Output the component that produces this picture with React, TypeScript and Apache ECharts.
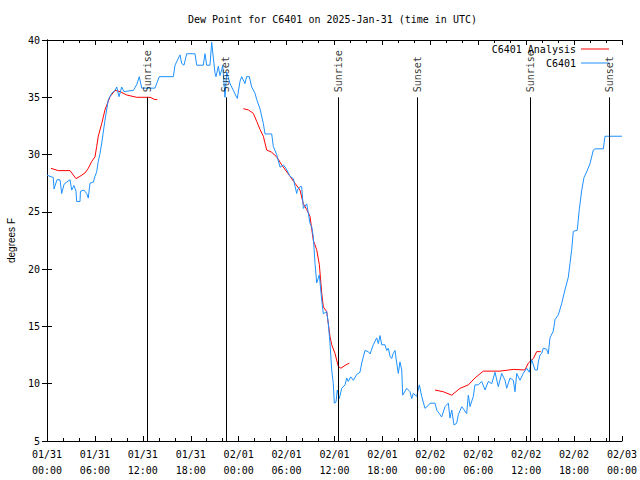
import React, { useEffect, useRef } from "react";
import * as echarts from "echarts";

const titleText = "Dew Point for C6401 on 2025-Jan-31 (time in UTC)";
const yAxisName = "degrees F";
const xTickLabels = [
  "01/31\n00:00", "01/31\n06:00", "01/31\n12:00", "01/31\n18:00",
  "02/01\n00:00", "02/01\n06:00", "02/01\n12:00", "02/01\n18:00",
  "02/02\n00:00", "02/02\n06:00", "02/02\n12:00", "02/02\n18:00",
  "02/03\n00:00",
];
const seriesNames = ["C6401 Analysis", "C6401"];

// hours since 01/31 00:00 UTC, dew point (F)
const analysis: [number, number | null][] = [
  [0.5, 28.8], [1.41, 28.6], [2.88, 28.6], [3.63, 27.9], [4.13, 28.1], [4.76, 28.4],
  [5.17, 28.8], [5.6, 29.4], [6.01, 29.8], [6.22, 30.7], [6.42, 31.6], [6.85, 32.7],
  [7.26, 33.9], [7.89, 35.05], [8.51, 35.6], [9.14, 35.5], [9.98, 35.2], [11.23, 35.0],
  [12.27, 35.0], [12.9, 35.0], [13.52, 34.8], [13.81, 34.8],
  [19.0, null],
  [24.58, 34.0], [25.21, 33.9], [25.83, 33.6], [26.26, 32.9], [26.67, 32.2], [27.09, 31.6],
  [27.51, 30.4], [28.14, 30.2], [28.76, 29.8], [29.39, 29.1], [30.43, 28.1], [31.05, 27.5],
  [31.68, 26.9], [32.1, 25.7], [32.52, 25.2], [32.93, 24.6], [33.35, 22.5], [33.77, 21.7],
  [34.1, 20.4], [34.4, 17.9], [34.6, 16.7], [35.02, 16.3], [35.44, 14.1], [35.65, 13.4],
  [36.06, 12.65], [36.48, 11.5], [36.81, 11.35], [37.32, 11.6], [37.85, 11.8],
  [43.0, null],
  [48.59, 9.45], [49.62, 9.3], [50.68, 9.0], [51.72, 9.6], [52.76, 9.9], [53.59, 10.5],
  [54.63, 11.1], [55.47, 11.1], [56.72, 11.1], [58.39, 11.25], [59.85, 11.2], [60.27, 11.8],
  [60.9, 12.2], [61.32, 12.8], [61.82, 12.8],
];

const observed: [number, number][] = [
  [0.0, 28.2], [0.79, 28.0], [0.88, 27.0], [1.25, 27.8], [1.63, 27.8], [1.84, 26.6],
  [2.13, 27.4], [2.47, 27.6], [2.88, 27.8], [3.09, 26.9], [3.38, 27.3], [3.63, 26.8],
  [3.72, 25.9], [4.13, 25.9], [4.19, 26.8], [4.63, 26.9], [4.97, 26.6], [5.17, 26.2],
  [5.38, 27.5], [5.8, 27.6], [6.01, 28.1], [6.22, 28.5], [6.42, 29.4], [6.64, 30.1],
  [6.85, 31.0], [7.26, 33.0], [7.68, 34.8], [8.1, 35.35], [8.51, 35.6], [8.73, 35.9],
  [9.02, 35.05], [9.35, 35.9], [9.64, 35.5], [10.81, 35.6], [11.23, 36.1], [11.56, 36.8],
  [11.86, 35.8], [13.52, 35.8], [14.06, 36.8], [15.82, 36.8], [16.03, 37.8], [16.65, 38.7],
  [16.87, 37.95], [17.15, 37.8], [17.49, 38.8], [18.53, 38.8], [18.75, 37.8], [19.57, 37.8],
  [19.78, 38.8], [20.0, 37.8], [20.41, 37.8], [20.62, 39.8], [20.82, 38.5], [21.04, 37.1],
  [21.16, 36.8], [21.45, 37.7], [21.66, 36.9], [21.88, 37.4], [22.0, 37.8], [22.29, 35.0],
  [22.5, 37.2], [22.92, 36.2], [23.33, 35.6], [23.75, 35.0], [23.83, 34.9], [24.17, 36.4],
  [24.38, 36.8], [24.79, 36.2], [25.0, 36.8], [25.33, 36.8], [25.63, 35.9], [26.05, 35.35],
  [26.26, 34.8], [26.67, 34.0], [27.09, 32.7], [27.3, 31.8], [28.14, 31.8], [28.34, 30.7],
  [28.76, 30.0], [29.18, 28.9], [29.59, 29.1], [29.93, 28.8], [30.43, 28.1], [30.84, 27.9],
  [31.27, 26.6], [31.34, 26.9], [31.68, 27.2], [31.89, 27.2], [32.1, 25.3], [32.31, 25.5],
  [32.52, 25.7], [32.72, 24.9], [32.93, 24.0], [33.15, 23.7], [33.35, 22.8], [33.56, 20.5],
  [33.77, 18.8], [34.1, 19.5], [34.4, 17.3], [34.6, 16.1], [35.02, 16.3], [35.22, 15.3],
  [35.44, 13.5], [35.65, 11.2], [35.85, 10.0], [35.98, 8.3], [36.19, 8.4], [36.35, 9.45],
  [36.6, 8.7], [36.9, 9.6], [37.32, 9.9], [37.53, 10.5], [37.73, 10.2], [38.03, 10.6],
  [38.36, 10.3], [38.78, 10.8], [39.19, 11.0], [39.41, 11.8], [39.82, 12.9], [40.23, 12.8],
  [40.45, 12.6], [40.86, 13.4], [41.28, 14.0], [41.49, 13.5], [41.7, 14.2], [41.91, 13.4],
  [42.32, 13.4], [42.54, 12.9], [42.74, 13.1], [42.95, 12.4], [43.16, 12.2], [43.36, 12.65],
  [43.58, 12.9], [43.79, 11.8], [43.99, 10.9], [44.2, 11.9], [44.42, 11.2], [44.54, 9.0],
  [45.04, 9.6], [45.45, 9.3], [45.67, 8.7], [45.87, 9.15], [46.29, 8.9], [46.62, 9.9],
  [46.92, 8.9], [47.33, 7.85], [47.75, 8.1], [47.96, 8.3], [48.59, 8.3], [48.8, 7.7],
  [49.42, 7.1], [49.84, 8.0], [50.25, 8.3], [50.46, 7.0], [50.68, 7.7], [50.96, 6.4],
  [51.3, 6.55], [51.5, 7.3], [51.93, 8.0], [52.55, 7.4], [52.76, 9.0], [52.97, 8.0],
  [53.38, 8.9], [53.59, 9.9], [54.01, 9.9], [54.43, 10.2], [54.85, 9.45], [55.26, 10.2],
  [55.69, 10.0], [56.1, 11.0], [56.51, 9.75], [56.94, 10.9], [57.35, 10.3], [57.56, 9.6],
  [57.98, 10.5], [58.39, 10.3], [58.6, 9.3], [58.82, 10.9], [59.23, 10.3], [59.64, 10.9],
  [60.07, 11.35], [60.39, 11.0], [60.69, 12.1], [61.11, 11.2], [61.4, 11.2], [61.52, 11.9],
  [61.73, 12.5], [61.94, 12.65], [62.15, 13.1], [62.57, 13.0], [62.77, 12.6], [62.98, 14.0],
  [63.4, 14.6], [63.61, 15.6], [64.02, 16.0], [64.45, 17.0], [64.86, 18.2], [65.28, 19.3],
  [65.49, 20.5], [65.7, 21.7], [65.9, 23.3], [66.4, 23.4], [66.65, 25.2], [66.96, 26.9],
  [67.24, 28.0], [67.58, 28.5], [67.99, 29.2], [68.41, 30.4], [68.62, 30.5], [69.66, 30.5],
  [69.87, 31.6], [72.0, 31.6],
];

const sunTimes = [12.58, 22.4, 36.45, 46.37, 60.5, 70.4];
const sunLabels = ["Sunrise", "Sunset", "Sunrise", "Sunset", "Sunrise", "Sunset"];
const sunLineBottom = 5;
const sunLineTop = 35;

export default function App() {
  const ref = useRef<HTMLDivElement>(null);
  useEffect(() => {
    const chart = echarts.init(ref.current!, null, { renderer: "svg" });
    const mono = "DejaVu Sans Mono";
    const xCommon = {
      type: "value",
      min: 0,
      max: 72,
      interval: 6,
      axisLine: { show: true, lineStyle: { color: "#000", width: 1 } },
      axisTick: { show: true, inside: true, length: 5, lineStyle: { color: "#000" } },
      minorTick: { show: true, splitNumber: 3, length: 3, lineStyle: { color: "#000" } },
      splitLine: { show: false },
    };
    const yCommon = {
      type: "value",
      min: 5,
      max: 40,
      interval: 5,
      axisLine: { show: true, lineStyle: { color: "#000", width: 1 } },
      axisTick: { show: true, inside: true, length: 5, lineStyle: { color: "#000" } },
      splitLine: { show: false },
    };
    const legendCommon = {
      orient: "horizontal",
      align: "right",
      icon: "rect",
      itemWidth: 28,
      itemHeight: 1,
      padding: 0,
      selectedMode: false,
      textStyle: { fontFamily: mono, fontSize: 10, color: "#000" },
    };
    chart.setOption({
      animation: false,
      backgroundColor: "#ffffff",
      title: {
        text: titleText,
        left: 188,
        top: 14,
        padding: 0,
        textStyle: { fontFamily: mono, fontSize: 10, fontWeight: "normal", color: "#000" },
      },
      legend: [
        { ...legendCommon, data: [seriesNames[0]], right: 31, top: 44 },
        { ...legendCommon, data: [seriesNames[1]], right: 31, top: 58 },
      ],
      grid: {
        left: 47,
        right: 18,
        top: 40,
        bottom: 39,
        containLabel: false,
        outerBoundsMode: "none",
      },
      xAxis: [
        {
          ...xCommon,
          position: "bottom",
          axisLabel: {
            show: true,
            fontFamily: mono,
            fontSize: 10,
            color: "#000",
            lineHeight: 16,
            margin: 5,
            showMinLabel: true,
            showMaxLabel: true,
            hideOverlap: false,
            formatter: (v: number) => xTickLabels[Math.round(v / 6)] ?? "",
          },
        },
        { ...xCommon, position: "top", axisLabel: { show: false } },
      ],
      yAxis: [
        {
          ...yCommon,
          position: "left",
          name: yAxisName,
          nameLocation: "middle",
          nameGap: 31,
          nameTextStyle: { fontFamily: "Liberation Sans", fontSize: 10, color: "#000" },
          axisLabel: { show: true, fontFamily: mono, fontSize: 10, color: "#000", margin: 7 },
        },
        { ...yCommon, position: "right", axisLabel: { show: false } },
      ],
      series: [
        {
          name: seriesNames[0],
          type: "line",
          data: analysis.map(([h, v]) => [h, v === null ? "-" : v]),
          showSymbol: false,
          symbol: "none",
          connectNulls: false,
          color: "#ff0000",
          lineStyle: { color: "#ff0000", width: 1 },
          z: 2,
        },
        {
          name: seriesNames[1],
          type: "line",
          data: observed,
          showSymbol: false,
          symbol: "none",
          color: "#1e90ff",
          lineStyle: { color: "#1e90ff", width: 1 },
          z: 3,
        },
        {
          name: "sun",
          type: "scatter",
          data: sunTimes.map((t) => [t, sunLineTop]),
          symbol: "circle",
          symbolSize: 0.01,
          itemStyle: { color: "rgba(0,0,0,0)" },
          silent: true,
          z: 5,
          label: {
            show: true,
            formatter: (p: any) => sunLabels[p.dataIndex],
            position: [0, -5],
            rotate: 90,
            align: "left",
            verticalAlign: "middle",
            fontFamily: mono,
            fontSize: 10,
            color: "#000",
          },
          markLine: {
            silent: true,
            symbol: ["none", "none"],
            label: { show: false },
            lineStyle: { color: "#000", width: 1, type: "solid" },
            data: sunTimes.map((t) => [{ coord: [t, sunLineBottom] }, { coord: [t, sunLineTop] }]),
            z: 5,
          },
        },
      ],
    });
    return () => chart.dispose();
  }, []);
  return (
    <div
      ref={ref}
      style={{ position: "absolute", left: 0, top: 0, width: 640, height: 480 }}
    />
  );
}
